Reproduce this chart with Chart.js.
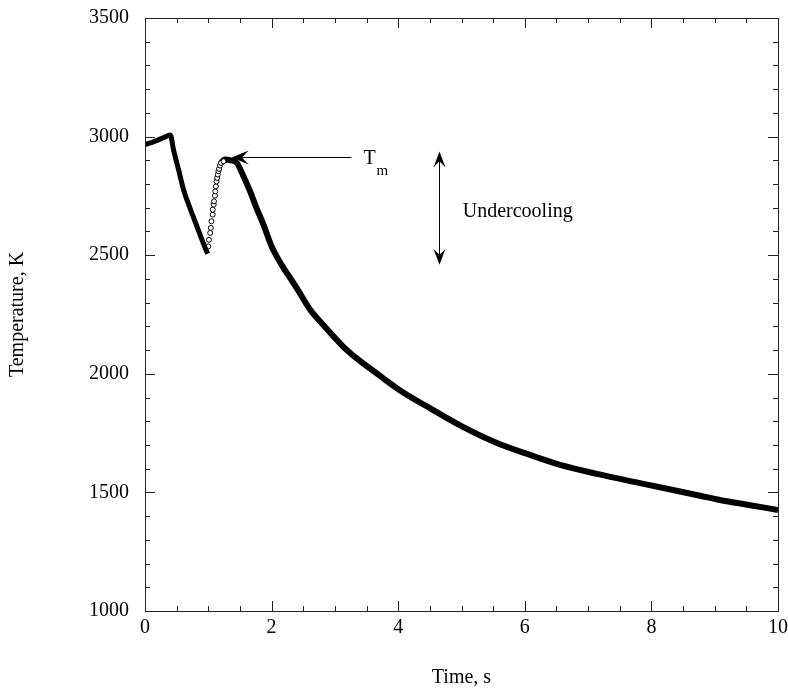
<!DOCTYPE html>
<html>
<head>
<meta charset="utf-8">
<script src="https://cdn.jsdelivr.net/npm/chart.js@4/dist/chart.umd.min.js"></script>
<style>
  html, body { margin: 0; padding: 0; background: #fff; }
  #wrap { width: 788px; height: 690px; position: relative; }
</style>
</head>
<body>
<div id="wrap"><canvas id="chartCooling"></canvas></div>
<script>
// ---- data ----
// heating + first cooling (dense markers)
const timeHeat = [0.00, 0.10, 0.20, 0.30, 0.40, 0.45, 0.53, 0.61, 0.71, 0.82, 0.92, 0.99];
const tempHeat = [2966, 2975, 2985, 2996, 3007, 2945, 2861, 2775, 2699, 2622, 2551, 2506];

// recalescence (sparse open circles)
const timeRecal = [1.00, 1.01, 1.03, 1.04, 1.05, 1.07, 1.07, 1.085, 1.09, 1.105, 1.11, 1.12, 1.13, 1.14, 1.15, 1.16, 1.17, 1.185, 1.20, 1.24];
const tempRecal = [2537, 2565, 2594, 2615, 2643, 2671, 2692, 2713, 2727, 2751, 2769, 2790, 2811, 2826, 2840, 2854, 2864, 2878, 2889, 2896];

// plateau + cooling of the solid (dense markers)
const timeCool = [1.20, 1.26, 1.35, 1.45, 1.55, 1.66, 1.76, 1.87, 2.00, 2.08, 2.18, 2.29, 2.40, 2.61, 2.82, 3.13, 3.34, 3.72, 3.87, 4.03, 4.50, 5.03, 5.56, 6.08, 6.56, 7.14, 7.82, 8.77, 9.08, 9.56, 10.0];
const tempCool = [2889, 2903, 2900, 2889, 2836, 2769, 2700, 2630, 2537, 2495, 2450, 2405, 2360, 2270, 2205, 2115, 2066, 1990, 1960, 1930, 1855, 1775, 1708, 1658, 1616, 1578, 1539, 1486, 1468, 1446, 1426];

const xTicks = { min: 0, max: 10, major: 2, minor: 0.5 };
const yTicks = { min: 1000, max: 3500, major: 500, minor: 100 };

// annotation anchors (data units)
const tmArrow = { tipX: 1.37, tailX: 3.26, y: 2912, label: 'T', sub: 'm', labelX: 3.45 };
const ucArrow = { x: 4.64, top: 2937, bottom: 2460, label: 'Undercooling', labelX: 5.02, labelY: 2684 };

const serif = "'Liberation Serif', 'Times New Roman', serif";

function pts(xs, ys) {
  return xs.map((x, i) => ({ x, y: ys[i] }));
}

function barbHead(ctx, tipX, tipY, dirX, dirY, len, half) {
  // filled barbed arrowhead pointing along (dirX, dirY)
  const bx = tipX - dirX * len, by = tipY - dirY * len;
  const nx = -dirY, ny = dirX;
  ctx.beginPath();
  ctx.moveTo(tipX, tipY);
  ctx.lineTo(bx + nx * half, by + ny * half);
  ctx.lineTo(tipX - dirX * len * 0.6, tipY - dirY * len * 0.6);
  ctx.lineTo(bx - nx * half, by - ny * half);
  ctx.closePath();
  ctx.fill();
}

const framePlugin = {
  id: 'frameTicks',
  afterDraw(chart) {
    const { ctx, chartArea: a } = chart;
    const xs = chart.scales.x, ys = chart.scales.y;
    ctx.save();
    ctx.strokeStyle = '#222';
    ctx.lineWidth = 1;
    ctx.strokeRect(Math.round(a.left) + 0.5, Math.round(a.top) + 0.5, Math.round(a.right - a.left), Math.round(a.bottom - a.top));

    // inward ticks on all four sides
    ctx.beginPath();
    const nx = Math.round((xTicks.max - xTicks.min) / xTicks.minor);
    for (let i = 0; i <= nx; i++) {
      const v = xTicks.min + i * xTicks.minor;
      const px = Math.round(xs.getPixelForValue(v)) + 0.5;
      const len = (Math.abs(v / xTicks.major - Math.round(v / xTicks.major)) < 1e-6) ? 10 : 5;
      ctx.moveTo(px, a.bottom); ctx.lineTo(px, a.bottom - len);
      ctx.moveTo(px, a.top); ctx.lineTo(px, a.top + len);
    }
    const ny = Math.round((yTicks.max - yTicks.min) / yTicks.minor);
    for (let i = 0; i <= ny; i++) {
      const v = yTicks.min + i * yTicks.minor;
      const py = Math.round(ys.getPixelForValue(v)) + 0.5;
      const len = (v % yTicks.major === 0) ? 10 : 5;
      ctx.moveTo(a.left, py); ctx.lineTo(a.left + len, py);
      ctx.moveTo(a.right, py); ctx.lineTo(a.right - len, py);
    }
    ctx.stroke();

    // T_m arrow
    ctx.fillStyle = '#000';
    ctx.strokeStyle = '#000';
    const tY = Math.round(ys.getPixelForValue(tmArrow.y)) + 0.5;
    const tipX = xs.getPixelForValue(tmArrow.tipX);
    const tailX = xs.getPixelForValue(tmArrow.tailX);
    ctx.lineWidth = 1;
    ctx.beginPath();
    ctx.moveTo(tailX, tY); ctx.lineTo(tipX + 8, tY);
    ctx.stroke();
    barbHead(ctx, tipX, tY, -1, 0, 17, 7);

    ctx.font = `20px ${serif}`;
    ctx.textBaseline = 'alphabetic';
    ctx.textAlign = 'left';
    const lx = xs.getPixelForValue(tmArrow.labelX);
    ctx.fillText(tmArrow.label, lx, tY + 6);
    ctx.font = `15px ${serif}`;
    ctx.fillText(tmArrow.sub, lx + 13, tY + 17);

    // undercooling double arrow
    const ux = Math.round(xs.getPixelForValue(ucArrow.x)) + 0.5;
    const uTop = ys.getPixelForValue(ucArrow.top);
    const uBot = ys.getPixelForValue(ucArrow.bottom);
    ctx.beginPath();
    ctx.moveTo(ux, uTop + 8); ctx.lineTo(ux, uBot - 8);
    ctx.stroke();
    barbHead(ctx, ux, uTop, 0, -1, 16, 6);
    barbHead(ctx, ux, uBot, 0, 1, 16, 6);

    ctx.font = `20px ${serif}`;
    ctx.textBaseline = 'middle';
    ctx.fillText(ucArrow.label, xs.getPixelForValue(ucArrow.labelX), ys.getPixelForValue(ucArrow.labelY));
    ctx.restore();
  }
};

const axisFont = { family: serif, size: 20 };

new Chart(document.getElementById('chartCooling'), {
  type: 'line',
  data: {
    datasets: [
      {
        label: 'heating',
        data: pts(timeHeat, tempHeat),
        borderColor: '#000',
        borderWidth: 5,
        pointRadius: 0,
        cubicInterpolationMode: 'monotone'
      },
      {
        label: 'recalescence',
        data: pts(timeRecal, tempRecal),
        showLine: false,
        pointStyle: 'circle',
        pointRadius: 2.5,
        pointBorderWidth: 1,
        pointBorderColor: '#000',
        pointBackgroundColor: '#fff'
      },
      {
        label: 'cooling',
        data: pts(timeCool, tempCool),
        borderColor: '#000',
        borderWidth: 6,
        pointRadius: 0,
        cubicInterpolationMode: 'monotone'
      }
    ]
  },
  options: {
    responsive: true,
    maintainAspectRatio: false,
    animation: false,
    layout: { padding: { top: 18, right: 10, left: 0, bottom: 0 } },
    plugins: {
      legend: { display: false },
      tooltip: { enabled: false }
    },
    scales: {
      x: {
        type: 'linear',
        min: xTicks.min,
        max: xTicks.max,
        ticks: { stepSize: xTicks.major, color: '#000', font: axisFont, padding: 5, maxRotation: 0, callback: (v) => String(v) },
        grid: { display: false, drawTicks: false },
        border: { display: false },
        title: { display: true, text: 'Time, s', color: '#000', font: axisFont, padding: { top: 0, bottom: 0 } },
        afterFit: (s) => { s.height = 79; s.paddingLeft = 0; s.paddingRight = 0; }
      },
      y: {
        type: 'linear',
        min: yTicks.min,
        max: yTicks.max,
        ticks: { stepSize: yTicks.major, color: '#000', font: axisFont, padding: 16, callback: (v) => String(v) },
        grid: { display: false, drawTicks: false },
        border: { display: false },
        title: { display: true, text: 'Temperature, K', color: '#000', font: axisFont, padding: { top: 6, bottom: 0 } },
        afterFit: (s) => { s.width = 145; s.paddingTop = 0; s.paddingBottom = 0; }
      }
    }
  },
  plugins: [framePlugin]
});
</script>
</body>
</html>
